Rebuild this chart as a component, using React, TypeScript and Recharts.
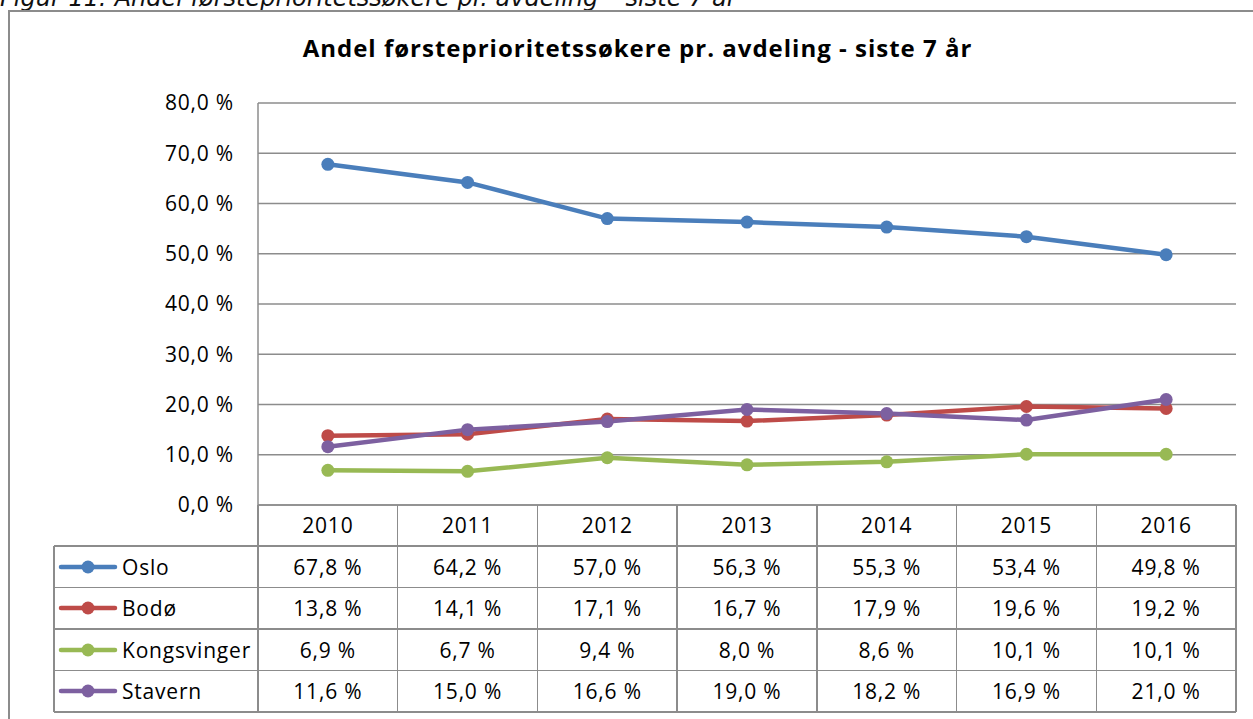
import { LineChart, Line, XAxis, YAxis, CartesianGrid } from 'recharts'

const YEARS = ['2010', '2011', '2012', '2013', '2014', '2015', '2016']
const OSLO = [67.8, 64.2, 57.0, 56.3, 55.3, 53.4, 49.8]
const BODO = [13.8, 14.1, 17.1, 16.7, 17.9, 19.6, 19.2]
const KONGSVINGER = [6.9, 6.7, 9.4, 8.0, 8.6, 10.1, 10.1]
const STAVERN = [11.6, 15.0, 16.6, 19.0, 18.2, 16.9, 21.0]
const Y_TICKS = [0, 10, 20, 30, 40, 50, 60, 70, 80]

const SERIES = [
    { key: 'oslo', name: 'Oslo', color: '#4A7EBB', values: OSLO },
    { key: 'bodo', name: 'Bodø', color: '#BE4B48', values: BODO },
    { key: 'kongsvinger', name: 'Kongsvinger', color: '#98B954', values: KONGSVINGER },
    { key: 'stavern', name: 'Stavern', color: '#7D60A0', values: STAVERN },
]

const data = YEARS.map((year, i) => {
    const row: Record<string, string | number> = { year }
    SERIES.forEach(s => { row[s.key] = s.values[i] })
    return row
})

const fmt = (v: number) => v.toFixed(1).replace('.', ',') + ' %'

const FONT = '"Open Sans", sans-serif'
const GRID = '#8c8c8c'
const TEXT = { fontSize: 21, letterSpacing: 0.8 }

// plot / table geometry
const PLOT_LEFT = 258
const PLOT_RIGHT = 1236
const PLOT_TOP = 103
const PLOT_BOTTOM = 505
const HEADER_BOTTOM = 546
const ROW_H = 41.5
const LEGEND_LEFT = 54
const COL_W = (PLOT_RIGHT - PLOT_LEFT) / YEARS.length

export default function App() {
    const tableBottom = HEADER_BOTTOM + ROW_H * SERIES.length

    return (
        <div style={{ position: 'relative', width: 1253, height: 719, overflow: 'hidden', background: '#fff', fontFamily: FONT, color: '#000' }}>
            <style>{`body{margin:0}`}</style>

            {/* cut-off caption */}
            <div style={{ position: 'absolute', left: 0, top: -14.5, fontFamily: '"DejaVu Sans", sans-serif', fontSize: 24, lineHeight: '24px', fontStyle: 'italic', whiteSpace: 'nowrap', color: '#111' }}>
                Figur 11: Andel førsteprioritetssøkere pr. avdeling – siste 7 år
            </div>

            {/* chart frame */}
            <div style={{ position: 'absolute', left: 8, top: 10, width: 1300, height: 800, borderLeft: `2px solid ${GRID}`, borderTop: `2px solid ${GRID}` }} />

            <div style={{ position: 'absolute', left: 0, width: 1275, top: 36, textAlign: 'center', fontWeight: 700, fontSize: 24, lineHeight: '24px', letterSpacing: 1, whiteSpace: 'nowrap' }}>
                Andel førsteprioritetssøkere pr. avdeling - siste 7 år
            </div>

            <div style={{ position: 'absolute', left: 0, top: 0 }}>
                <LineChart
                    width={1253}
                    height={719}
                    data={data}
                    margin={{ top: PLOT_TOP, right: 1253 - PLOT_RIGHT, bottom: 719 - PLOT_BOTTOM - 40, left: 0 }}
                >
                    <CartesianGrid vertical={false} stroke={GRID} strokeWidth={1.5} />
                    <XAxis
                        dataKey="year"
                        padding={{ left: COL_W / 2, right: COL_W / 2 }}
                        height={40}
                        tickLine={false}
                        tickSize={0}
                        tickMargin={13}
                        axisLine={{ stroke: GRID, strokeWidth: 1.5 }}
                        tick={{ fill: '#000', fontFamily: FONT, ...TEXT }}
                    />
                    <YAxis
                        width={PLOT_LEFT}
                        domain={[0, 80]}
                        ticks={Y_TICKS}
                        tickFormatter={fmt}
                        tickLine={false}
                        tickSize={0}
                        tickMargin={24}
                        axisLine={{ stroke: GRID, strokeWidth: 1.5 }}
                        tick={{ fill: '#000', fontFamily: FONT, ...TEXT }}
                    />
                    {SERIES.map(s => (
                        <Line
                            key={s.key}
                            dataKey={s.key}
                            name={s.name}
                            stroke={s.color}
                            strokeWidth={4.5}
                            dot={{ r: 6.5, fill: s.color, stroke: s.color, strokeWidth: 0 }}
                            isAnimationActive={false}
                        />
                    ))}
                </LineChart>
            </div>

            {/* data table lines */}
            {Array.from({ length: YEARS.length + 1 }, (_, i) => (
                <div key={'v' + i} style={{ position: 'absolute', left: PLOT_LEFT + COL_W * i - 0.75, top: PLOT_BOTTOM, width: 1.5, height: tableBottom - PLOT_BOTTOM, background: GRID }} />
            ))}
            <div style={{ position: 'absolute', left: LEGEND_LEFT - 0.75, top: HEADER_BOTTOM, width: 1.5, height: tableBottom - HEADER_BOTTOM, background: GRID }} />
            {Array.from({ length: SERIES.length + 1 }, (_, i) => (
                <div key={'h' + i} style={{ position: 'absolute', left: LEGEND_LEFT, top: HEADER_BOTTOM + ROW_H * i - 0.75, width: PLOT_RIGHT - LEGEND_LEFT, height: 1.5, background: GRID }} />
            ))}

            {/* legend keys + values */}
            {SERIES.map((s, r) => (
                <div key={s.key}>
                    <div style={{ position: 'absolute', left: LEGEND_LEFT, top: HEADER_BOTTOM + ROW_H * r, height: ROW_H, display: 'flex', alignItems: 'center' }}>
                        <svg width={64} height={14} style={{ marginLeft: 4 }}>
                            <line x1={3} y1={7} x2={57} y2={7} stroke={s.color} strokeWidth={4.5} strokeLinecap="round" />
                            <circle cx={30} cy={7} r={6.5} fill={s.color} />
                        </svg>
                        <span style={TEXT}>{s.name}</span>
                    </div>
                    {s.values.map((v, c) => (
                        <div key={c} style={{ position: 'absolute', left: PLOT_LEFT + COL_W * c, width: COL_W, top: HEADER_BOTTOM + ROW_H * r, height: ROW_H, display: 'flex', alignItems: 'center', justifyContent: 'center', ...TEXT }}>
                            {fmt(v)}
                        </div>
                    ))}
                </div>
            ))}
        </div>
    )
}
